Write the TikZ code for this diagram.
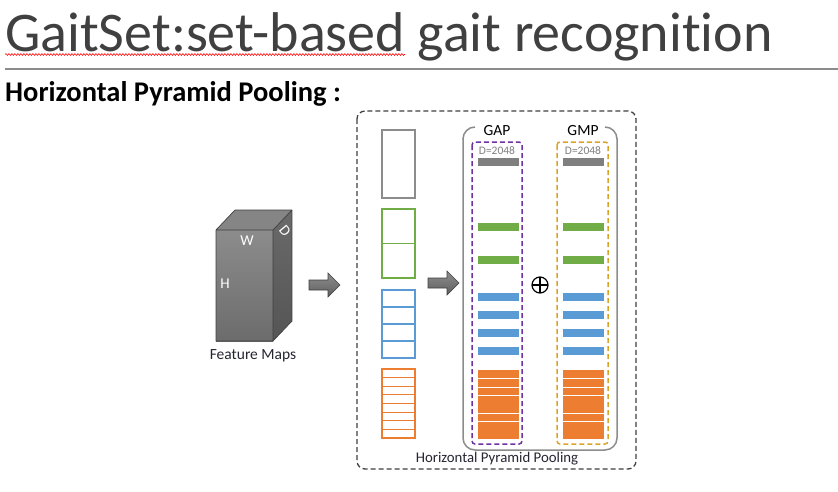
\documentclass[tikz,border=0pt]{standalone}
\usepackage{fontspec}
\setmainfont{Carlito}[Ligatures={NoCommon}]
\usetikzlibrary{decorations.pathmorphing}
\definecolor{titlegray}{HTML}{404040}
\definecolor{rulegray}{HTML}{8C8C8C}
\definecolor{cgray}{HTML}{7F7F7F}
\definecolor{cgreen}{HTML}{70AD47}
\definecolor{cblue}{HTML}{5B9BD5}
\definecolor{corange}{HTML}{ED7D31}
\definecolor{cpurple}{HTML}{7030A0}
\definecolor{cgold}{HTML}{DBA52A}
\definecolor{txtdark}{HTML}{262633}
\definecolor{frontA}{HTML}{8C8C8C}
\definecolor{frontB}{HTML}{6C6C6C}
\definecolor{topface}{HTML}{858585}
\definecolor{sideA}{HTML}{6A6A6A}
\definecolor{sideB}{HTML}{555555}
\definecolor{arrA}{HTML}{8E8E8E}
\definecolor{arrB}{HTML}{5E5E5E}
\begin{document}
\begin{tikzpicture}[x=1pt,y=-1pt,
  colbox/.style={line width=1.8pt},
  featbar/.style={inner sep=0pt, minimum width=41pt, minimum height=8pt, draw=none},
  poolbox/.style={dashed, dash pattern=on 5pt off 3pt, line width=1.5pt, rounded corners=3pt},
  blockarrow/.style={draw=titlegray, line width=0.6pt, top color=arrA, bottom color=arrB},
  cubelabel/.style={text=white, font=\fontsize{15}{17}\selectfont, inner sep=0pt}]
\useasboundingbox (0,0) rectangle (838,491);
\fill[white] (0,0) rectangle (838,491);

% title
\node[anchor=base west, inner sep=0pt, text=titlegray, font=\fontsize{56}{60}\selectfont] (title) at (5,51) {GaitSet:set-based gait recognition};
\draw[red, line width=0.6pt, decorate, decoration={snake, amplitude=0.9pt, segment length=3pt}] (5,54.5) -- (405,54.5);
\draw[rulegray, line width=1.2pt] (5,69) -- (838,69);
\node[anchor=base west, inner sep=0pt, font=\bfseries\fontsize{28.5}{33}\selectfont] (sub) at (5,101) {Horizontal Pyramid Pooling :};

% cube
\shade[top color=frontA, bottom color=frontB] (216,230) rectangle (273,341);
\fill[topface] (216,230) -- (235,210) -- (292,210) -- (273,230) -- cycle;
\shade[top color=sideA, bottom color=sideB] (273,230) -- (292,210) -- (292,321) -- (273,341) -- cycle;
\draw[titlegray, line width=0.7pt, line join=round] (216,230) -- (235,210) -- (292,210) -- (292,321) -- (273,341) -- (216,341) -- cycle (216,230) -- (273,230) -- (292,210) (273,230) -- (273,341);
\node[cubelabel] (w) at (247,241) {W};
\node[cubelabel] (h) at (225,284) {H};
\node[cubelabel, rotate=-50] (d) at (285,231) {D};
\node[text=txtdark, font=\fontsize{15.5}{17}\selectfont, inner sep=0pt] (fm) at (253,356) {Feature Maps};

% block arrows
\draw[blockarrow] (309,280) -- (328,280) -- (328,273) -- (340,285) -- (328,297) -- (328,290) -- (309,290) -- cycle;
\draw[blockarrow] (428,278) -- (447,278) -- (447,271) -- (459,283) -- (447,295) -- (447,288) -- (428,288) -- cycle;

% outer dashed box
\draw[dashed, dash pattern=on 5pt off 3pt, line width=1.3pt, titlegray, rounded corners=8pt] (357,111) rectangle (636,469);
\node[text=txtdark, font=\fontsize{14.8}{17}\selectfont, inner sep=0pt] (hpp) at (497,459) {Horizontal Pyramid Pooling};

% left column
\draw[colbox, cgray!90] (382,130) rectangle (415,198);
\draw[colbox, cgreen] (382,209) rectangle (415,278);
\draw[cgreen, line width=1.8pt] (382,243.5) -- (415,243.5);
\draw[colbox, cblue] (382,290) rectangle (415,358);
\foreach \k in {1,2,3} \draw[cblue, line width=1.4pt] (382,290+17*\k) -- (415,290+17*\k);
\draw[colbox, corange] (382,369) rectangle (415,438);
\foreach \k in {1,...,7} \draw[corange, line width=1.1pt] (382,369+8.625*\k) -- (415,369+8.625*\k);

% gray bracket
\draw[rulegray, line width=1.5pt] (475,127) arc[start angle=90, end angle=180, radius=12pt];
\draw[rulegray, line width=1.5pt] (605,127) arc[start angle=90, end angle=0, radius=12pt];
\draw[rulegray, line width=1.5pt, rounded corners=12pt] (463,138) -- (463,450) -- (617,450) -- (617,138);

% pooling boxes
\draw[poolbox, cpurple] (472,142) rectangle (522,444);
\draw[poolbox, cgold] (557,142) rectangle (608,444);
\node[font=\fontsize{15.5}{17}\selectfont, inner sep=0pt] (gap) at (497,131) {GAP};
\node[font=\fontsize{15.5}{17}\selectfont, inner sep=0pt] (gmp) at (583,131) {GMP};
\node[text=gray, font=\fontsize{11.5}{13}\selectfont, inner sep=0pt] (dgap) at (497,151) {D=2048};
\node[text=gray, font=\fontsize{11.5}{13}\selectfont, inner sep=0pt] (dgmp) at (583,151) {D=2048};

\foreach \cx/\nm in {498.5/a,583.5/m}{
  \node[featbar, fill=cgray] (g\nm) at (\cx,162) {};
  \node[featbar, fill=cgreen] (ga\nm) at (\cx,227) {};
  \node[featbar, fill=cgreen] (gb\nm) at (\cx,260) {};
  \node[featbar, fill=cblue] (ba\nm) at (\cx,297) {};
  \node[featbar, fill=cblue] (bb\nm) at (\cx,315) {};
  \node[featbar, fill=cblue] (bc\nm) at (\cx,333) {};
  \node[featbar, fill=cblue] (bd\nm) at (\cx,351) {};
  \node[featbar, fill=corange, minimum height=69pt] (o\nm) at (\cx,404.5) {};
  \foreach \k in {1,2,3,5,6}
    \draw[white, line width=0.8pt] (o\nm.north west) ++(0,8.625*\k) -- ++(41,0);
}

% oplus
\draw[line width=1.2pt] (540,285) circle[radius=8pt];
\draw[line width=1.2pt] (532,285) -- (548,285) (540,277) -- (540,293);
\end{tikzpicture}
\end{document}
